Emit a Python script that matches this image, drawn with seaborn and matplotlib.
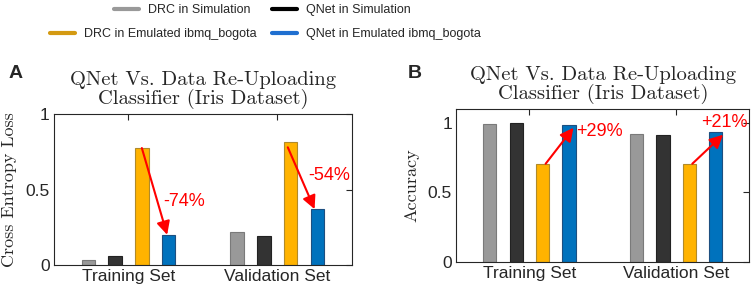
import matplotlib
matplotlib.use("Agg")
import matplotlib.pyplot as plt
import seaborn as sns
import pandas as pd
from matplotlib.lines import Line2D
from matplotlib import font_manager

sns.set_style("white")
plt.rcParams['font.family'] = ['Liberation Sans', 'DejaVu Sans']

# ---- data ----
groups = ["Training Set", "Validation Set"]
series = ["DRC in Simulation", "QNet in Simulation",
          "DRC in Emulated ibmq_bogota", "QNet in Emulated ibmq_bogota"]
loss_drc_sim = [0.033, 0.22]
loss_qnet_sim = [0.06, 0.195]
loss_drc_emu = [0.775, 0.815]
loss_qnet_emu = [0.20, 0.37]
acc_drc_sim = [0.993, 0.92]
acc_qnet_sim = [1.0, 0.91]
acc_drc_emu = [0.706, 0.706]
acc_qnet_emu = [0.986, 0.935]
loss_changes = ["-74%", "-54%"]
acc_changes = ["+29%", "+21%"]

bar_colors = ["#999999", "#333333", "#FFB300", "#0072BD"]
edge_colors = ["#7a7a7a", "#222222", "#b08a2a", "#1d4f80"]
legend_colors = ["#999999", "#000000", "#D49A12", "#1F6FD0"]

def make_df(vals):
    rows = []
    for s, v in zip(series, vals):
        for g, x in zip(groups, v):
            rows.append({"group": g, "series": s, "value": x})
    return pd.DataFrame(rows)

df_loss = make_df([loss_drc_sim, loss_qnet_sim, loss_drc_emu, loss_qnet_emu])
df_acc = make_df([acc_drc_sim, acc_qnet_sim, acc_drc_emu, acc_qnet_emu])

W, H = 754, 293
fig = plt.figure(figsize=(W / 100, H / 100), dpi=100)
axA = fig.add_axes([0.0716, 0.0956, 0.395, 0.515])
axB = fig.add_axes([0.605, 0.106, 0.389, 0.522])

avail = {f.name for f in font_manager.fontManager.ttflist}
serif = 'cmr10' if 'cmr10' in avail else 'DejaVu Serif'

def draw(ax, df, ylim, ylabel, label, ypad, lab_xy):
    sns.barplot(data=df, x="group", y="value", hue="series", ax=ax,
                palette=bar_colors, width=0.72, gap=0.5, legend=False,
                linewidth=0.8, saturation=1)
    for i, cont in enumerate(ax.containers):
        for p in cont:
            p.set_edgecolor(edge_colors[i])
    ax.set_xlim(-0.5, 1.5)
    ax.set_ylim(*ylim)
    ax.set_yticks([0, 0.5, 1])
    ax.set_yticklabels(["0", "0.5", "1"])
    ax.set_xlabel("")
    ax.set_ylabel(ylabel, family=serif, fontsize=13, labelpad=ypad)
    ax.tick_params(direction="in", top=True, right=True, length=4,
                   labelsize=12.5, width=0.8, pad=3)
    for sp in ax.spines.values():
        sp.set_visible(True)
        sp.set_color("#262626")
        sp.set_linewidth(0.8)
    ax.set_title("QNet Vs. Data Re-Uploading\nClassifier (Iris Dataset)",
                 family=serif, fontsize=14.8, linespacing=1.0, pad=7)
    ax.text(lab_xy[0], lab_xy[1], label, transform=ax.transAxes, fontsize=14,
            fontweight="bold", ha="center", va="center")

draw(axA, df_loss, (0, 1), "Cross Entropy Loss", "A", 6, (-0.13, 1.27))
draw(axB, df_acc, (0, 1.1), "Accuracy", "B", 6, (-0.14, 1.235))

arrow = dict(arrowstyle="-|>,head_length=0.8,head_width=0.4", color="#FF0000", lw=1.5,
             shrinkA=0, shrinkB=0)
# Panel A arrows
axA.annotate("", xy=(0.26, loss_qnet_emu[0]), xytext=(0.09, loss_drc_emu[0]), arrowprops=arrow)
axA.annotate("", xy=(1.25, loss_qnet_emu[1]), xytext=(1.07, 0.78), arrowprops=arrow)
axA.text(0.233, 0.42, loss_changes[0], color="#FF0000", fontsize=13, va="center")
axA.text(1.205, 0.59, loss_changes[1], color="#FF0000", fontsize=13, va="center")
# Panel B arrows
axB.annotate("", xy=(0.30, 0.965), xytext=(0.11, acc_drc_emu[0]), arrowprops=arrow)
axB.annotate("", xy=(1.32, 0.915), xytext=(1.11, acc_drc_emu[1]), arrowprops=arrow)
axB.text(0.32, 0.935, acc_changes[0], color="#FF0000", fontsize=13, va="center")
axB.text(1.17, 1.0, acc_changes[1], color="#FF0000", fontsize=13, va="center")

# Legend: one entry per legend, placed like the reference layout
handles = [Line2D([0], [0], color=c, lw=3) for c in legend_colors]
positions = [(114, 10), (272, 10), (50, 34), (272, 34)]
for h, s, (px, py) in zip(handles, series, positions):
    fig.legend([h], [s], loc="center left", bbox_to_anchor=(px / W, 1 - py / H),
               frameon=False, prop={"size": 9}, handlelength=2.0,
               handletextpad=0.7, borderpad=0, borderaxespad=0)

fig.savefig("out.png", dpi=100)
